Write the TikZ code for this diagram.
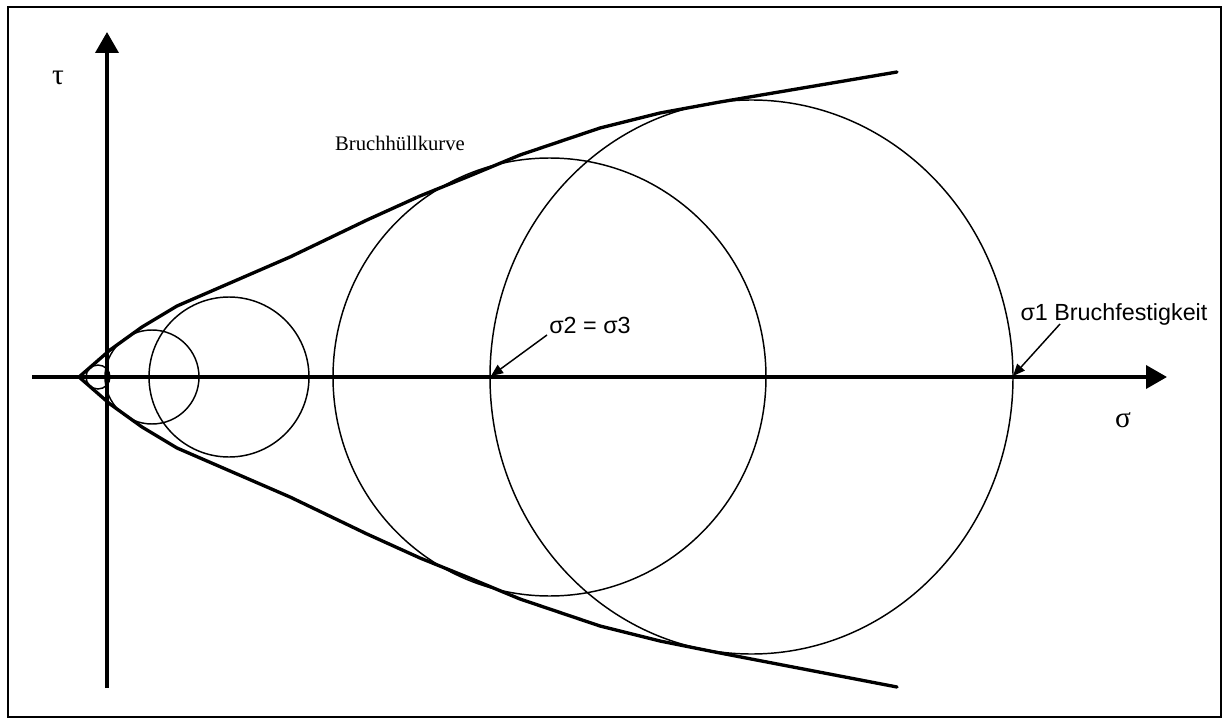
\documentclass[tikz,border=0pt]{standalone}
\usepackage{fontspec}
\setmainfont{Liberation Serif}
\newfontfamily\arialfont{Liberation Sans}
\usetikzlibrary{arrows.meta}
\tikzset{
  axisline/.style={line width=2.8pt,-{Triangle[length=15.75pt,width=17.25pt]}},
  envelope/.style={line width=2.5pt,line join=round,line cap=round},
  mohr/.style={line width=1.1pt},
  pointer/.style={line width=1.1pt,-{Triangle[length=9pt,width=7.5pt]}},
  frame/.style={line width=1.6pt},
  axlabel/.style={inner sep=0pt,font=\fontsize{22}{25}\selectfont},
  annot/.style={inner sep=0pt,font=\arialfont\fontsize{17.5}{20}\selectfont},
  curvelabel/.style={inner sep=0pt,font=\fontsize{15.5}{18}\selectfont}
}
\begin{document}
\begin{tikzpicture}[x=0.75pt,y=-0.75pt]
\useasboundingbox (0,0) rectangle (1229,724);
\draw[frame] (8,7) rectangle (1221,717);
% axes
\coordinate (xs) at (32,377);
\coordinate (xe) at (1167,377);
\coordinate (ys) at (107,688);
\coordinate (ye) at (107,32);
\draw[axisline] (xs) -- (xe);
\draw[axisline] (ys) -- (ye);
\node[axlabel] (tau) at (58,78) {τ};
\node[axlabel] (sig) at (1123,420) {σ};
% Mohr circles
\draw[mohr] (98,377) circle[radius=12];
\draw[mohr] (152,377) circle[radius=47];
\draw[mohr] (229,377) circle[radius=80];
\draw[mohr] (549.5,377) ellipse[x radius=216.5,y radius=219];
\draw[mohr] (751.5,377) ellipse[x radius=261.5,y radius=277];
% envelope
\draw[envelope] (79,377) -- (110,350) -- (142,327) -- (177,306) -- (290,257) -- (367,220) -- (420,196) -- (467,177) -- (520,155) -- (600,128) -- (660,113) -- (720,102) -- (897,72);
\draw[envelope] (79,377) -- (110,404) -- (142,427) -- (177,448) -- (290,497) -- (367,534) -- (420,558) -- (467,577) -- (520,599) -- (600,626) -- (660,641) -- (720,653) -- (897,687);
\node[curvelabel] (bhk) at (400,143) {Bruchhüllkurve};
% annotations
\node[annot] (s23) at (590,325) {σ2 = σ3};
\coordinate (p23) at (491,376);
\draw[pointer] (547,335) -- (p23);
\node[annot] (s1) at (1114,314) {σ1 Bruchfestigkeit};
\coordinate (p1) at (1013,376);
\draw[pointer] (1060,324) -- (p1);
\end{tikzpicture}
\end{document}
